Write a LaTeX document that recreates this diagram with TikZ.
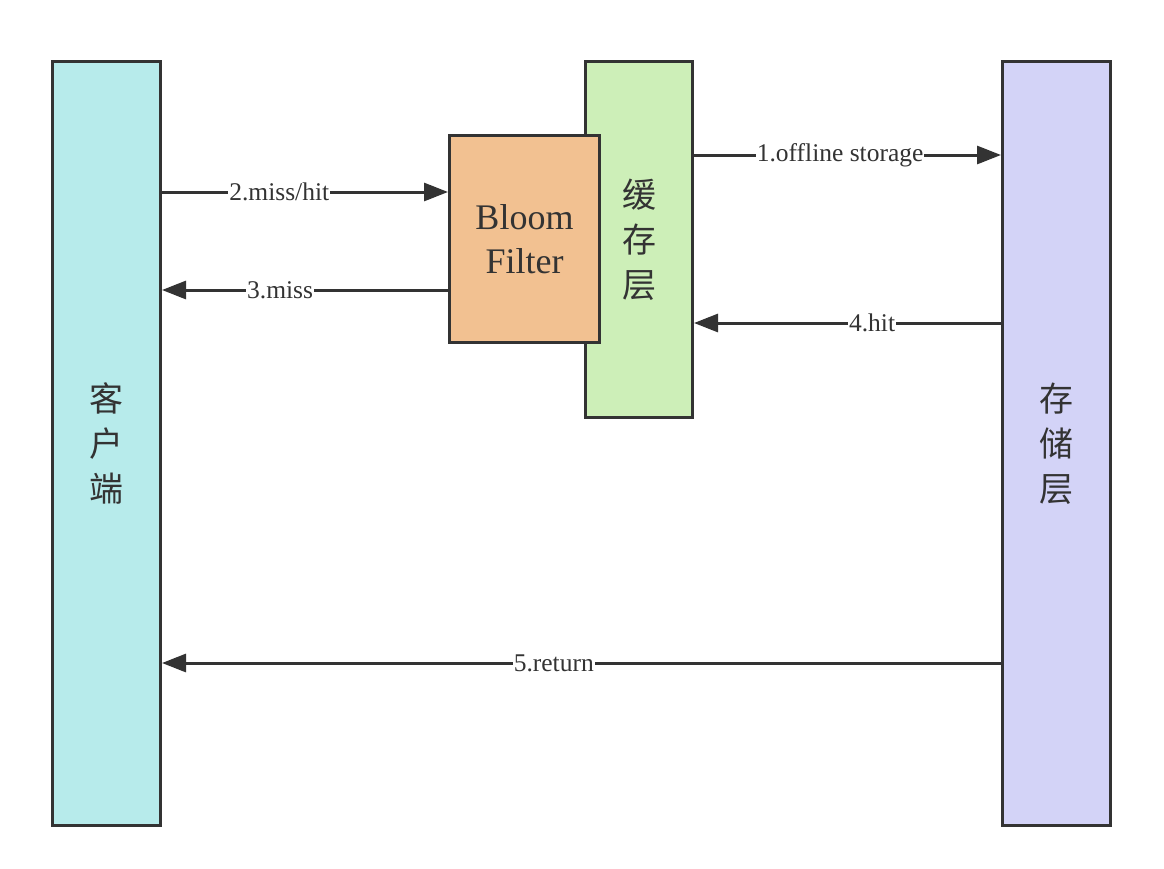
\documentclass[tikz,border=0pt]{standalone}
\usepackage{fontspec}
\setmainfont{Liberation Serif}
\newfontfamily\cjk{Noto Sans CJK SC}
\usetikzlibrary{arrows.meta}
\definecolor{ink}{HTML}{333333}
\definecolor{cclient}{HTML}{B7EBEB}
\definecolor{ccache}{HTML}{CDEFB8}
\definecolor{cbloom}{HTML}{F2C191}
\definecolor{cstore}{HTML}{D3D3F7}
\tikzset{
  box/.style={draw=ink, line width=3pt, text=ink, align=center, inner sep=0pt},
  cjklabel/.style={font=\cjk\fontsize{34}{45}\selectfont},
  arr/.style={draw=ink, line width=3pt, -{Triangle[length=24pt,width=18pt]}},
  lbl/.style={fill=white, text=ink, inner sep=1pt, font=\fontsize{25.5}{28}\selectfont}
}
\begin{document}
\begin{tikzpicture}[x=1pt,y=-1pt]
\useasboundingbox (0,0) rectangle (1164,868);
\node[box, fill=cclient, minimum width=108, minimum height=764, cjklabel] (client) at (106.5,443.5) {客\\户\\端};
\node[box, fill=cstore, minimum width=108, minimum height=764, cjklabel] (store) at (1056.5,443.5) {存\\储\\层};
\node[box, fill=ccache, minimum width=107, minimum height=356, cjklabel] (cache) at (639,239.5) {缓\\存\\层};
\node[box, fill=cbloom, minimum width=150, minimum height=207, font=\fontsize{36}{44}\selectfont] (bloom) at (524.5,239) {Bloom\\Filter};
\coordinate (y1) at (0,155);
\coordinate (y2) at (0,192);
\coordinate (y3) at (0,290);
\coordinate (y4) at (0,323);
\coordinate (y5) at (0,663);
\draw[arr] (cache.east |- y1) -- node[lbl, pos=0.476] {1.offline storage} (store.west |- y1);
\draw[arr] (client.east |- y2) -- node[lbl, pos=0.41] {2.miss/hit} (bloom.west |- y2);
\draw[arr] (bloom.west |- y3) -- node[lbl, pos=0.587] {3.miss} (client.east |- y3);
\draw[arr] (store.west |- y4) -- node[lbl, pos=0.42] {4.hit} (cache.east |- y4);
\draw[arr] (store.west |- y5) -- node[lbl, pos=0.533] {5.return} (client.east |- y5);
\end{tikzpicture}
\end{document}
